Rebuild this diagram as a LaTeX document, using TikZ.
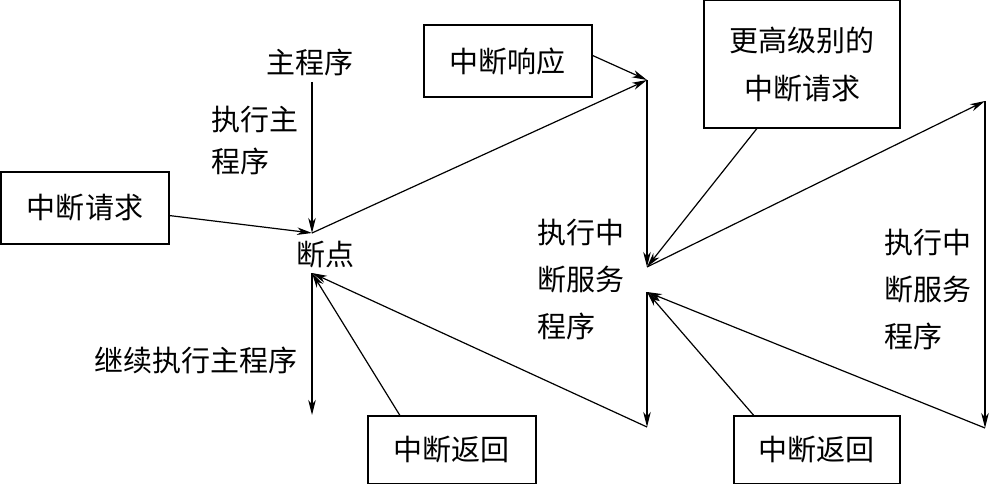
\documentclass[tikz,border=0pt]{standalone}
\usepackage{fontspec}
\setmainfont{Noto Sans CJK SC}
\usetikzlibrary{arrows.meta,calc}
\tikzset{
  box/.style={draw, line width=2pt, inner sep=0pt, outer sep=0pt, font=\fontsize{29}{48}\selectfont, align=center},
  lbl/.style={inner sep=0pt, outer sep=0pt, font=\fontsize{29}{47}\selectfont},
  conn/.style={line width=1.2pt, -{Stealth[length=15pt, width=7.5pt, inset=4.5pt]}},
  plain/.style={line width=1.2pt}
}
\begin{document}
\begin{tikzpicture}[x=1pt, y=-1pt]
\useasboundingbox (0,0) rectangle (990,484);
% boxes
\node[box, minimum width=168pt, minimum height=72pt] (req) at (85,207.5) {中断请求};
\node[box, minimum width=168pt, minimum height=72pt] (resp) at (507.5,61) {中断响应};
\node[box, minimum width=196pt, minimum height=128pt, text width=196pt] (high) at (802,64.5) {更高级别的\\中断请求};
\node[box, minimum width=168pt, minimum height=68pt] (ret1) at (451.5,450) {中断返回};
\node[box, minimum width=166pt, minimum height=68pt] (ret2) at (816.5,450) {中断返回};
% points
\coordinate (mp) at (312,82);
\coordinate (bp1) at (312,233);
\coordinate (bp2) at (312,273);
\coordinate (cont) at (312,415);
\coordinate (s1) at (647,80);
\coordinate (s2) at (647,267);
\coordinate (s3) at (647,292);
\coordinate (s4) at (647,427);
\coordinate (t1) at (985,101);
\coordinate (t2) at (985,428);
% labels
\node[lbl] (main) at (310,62) {主程序};
\node[lbl, anchor=west, align=left, font=\fontsize{29}{42}\selectfont] (exmain) at (211,141) {执行主\\程序};
\node[lbl] (bp) at (325,255) {断点};
\node[lbl] (contl) at (196,360) {继续执行主程序};
\node[lbl, anchor=west, align=left] (isr1) at (537,280) {执行中\\断服务\\程序};
\node[lbl, anchor=west, align=left] (isr2) at (884,290) {执行中\\断服务\\程序};
% connectors
\draw[conn] (mp) -- (bp1);
\draw[conn] ($(req.east)+(0,8)$) -- (bp1);
\draw[conn] (bp1) -- (s1);
\draw[conn] ($(resp.east)+(0,-6)$) -- (s1);
\draw[conn] (s1) -- (s2);
\draw[conn] ($(high.south west)!0.27!(high.south east)$) -- (s2);
\draw[conn] (s2) -- (t1);
\draw[conn] (t1) -- (t2);
\draw[conn] (t2) -- (s3);
\draw[conn] ($(ret2.north west)!0.125!(ret2.north east)$) -- (s3);
\draw[conn] (s3) -- (s4);
\draw[conn] (s4) -- (bp2);
\draw[conn] ($(ret1.north west)!0.195!(ret1.north east)$) -- (bp2);
\draw[conn] (bp2) -- (cont);
\end{tikzpicture}
\end{document}
